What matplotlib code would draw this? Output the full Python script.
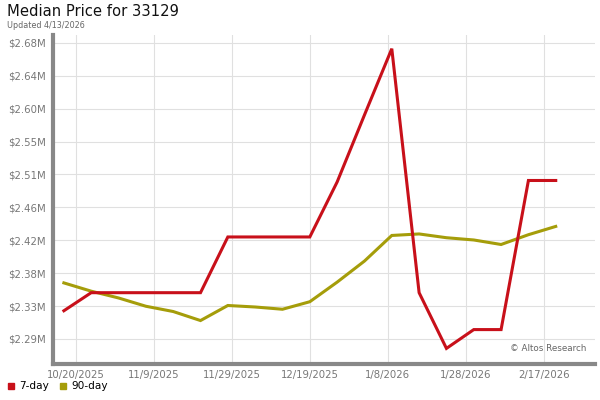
import datetime as dt
import matplotlib
matplotlib.use("Agg")
import matplotlib.pyplot as plt
from matplotlib.lines import Line2D

# Недельные точки (даты) и медианные цены, млн $
dates = ["2025-10-17", "2025-10-24", "2025-10-31", "2025-11-07", "2025-11-14",
         "2025-11-21", "2025-11-28", "2025-12-05", "2025-12-12", "2025-12-19",
         "2025-12-26", "2026-01-02", "2026-01-09", "2026-01-16", "2026-01-23",
         "2026-01-30", "2026-02-06", "2026-02-13", "2026-02-20"]
price_7day = [2.327, 2.351, 2.351, 2.351, 2.351, 2.351, 2.425, 2.425, 2.425, 2.425,
              2.498, 2.587, 2.675, 2.351, 2.277, 2.302, 2.302, 2.500, 2.500]
price_90day = [2.364, 2.353, 2.344, 2.333, 2.326, 2.314, 2.334, 2.332, 2.329, 2.339,
               2.365, 2.393, 2.427, 2.429, 2.424, 2.421, 2.415, 2.428, 2.439]

y_ticks = [2.2895 + 0.0437 * i for i in range(10)]
x_ticks = ["2025-10-20", "2025-11-09", "2025-11-29", "2025-12-19",
           "2026-01-08", "2026-01-28", "2026-02-17"]

red = "#C8101A"
olive = "#A59D0A"
grey = "#888888"

x = [dt.datetime.fromisoformat(d) for d in dates]
xt = [dt.datetime.fromisoformat(d) for d in x_ticks]

fig = plt.figure(figsize=(6, 4), dpi=100)
ax = fig.add_axes([0.0883, 0.09, 0.903, 0.8225])

ax.plot(x, price_7day, color=red, lw=2.2, solid_joinstyle="miter", zorder=3)
ax.plot(x, price_90day, color=olive, lw=2.2, solid_joinstyle="miter", zorder=2)

ax.set_ylim(2.2563, 2.6932)
ax.set_xlim(dt.datetime(2025, 10, 14, 5), dt.datetime(2026, 3, 2))

ax.set_yticks(y_ticks)
ax.set_yticklabels(["${:.2f}M".format(v) for v in y_ticks])
ax.set_xticks(xt)
ax.set_xticklabels([f"{d.month}/{d.day}/{d.year}" for d in xt])

ax.tick_params(length=0, labelsize=7.3, colors="#777777")
ax.tick_params(axis="y", pad=5)
ax.tick_params(axis="x", pad=4)
ax.grid(True, color="#e0e0e0", lw=0.8)
ax.set_axisbelow(True)

for s in ["top", "right"]:
    ax.spines[s].set_visible(False)
for s in ["left", "bottom"]:
    ax.spines[s].set_color(grey)
    ax.spines[s].set_linewidth(3)

ax.text(0.985, 0.033, "© Altos Research", transform=ax.transAxes,
        ha="right", va="bottom", fontsize=6.3, color="#666666")

fig.text(0.012, 0.99, "Median Price for 33129", ha="left", va="top",
         fontsize=10.6, color="#111111")
fig.text(0.012, 0.948, "Updated 4/13/2026", ha="left", va="top",
         fontsize=5.8, color="#666666")

handles = [Line2D([], [], marker="s", ls="", color=red, markersize=5),
           Line2D([], [], marker="s", ls="", color=olive, markersize=5)]
fig.legend(handles, ["7-day", "90-day"], loc="lower left",
           bbox_to_anchor=(0.0, 0.003), ncol=2, frameon=False, fontsize=7.6,
           handlelength=0.6, handletextpad=0.5, columnspacing=1.0,
           borderaxespad=0.3)

fig.savefig("out.png", dpi=100)
